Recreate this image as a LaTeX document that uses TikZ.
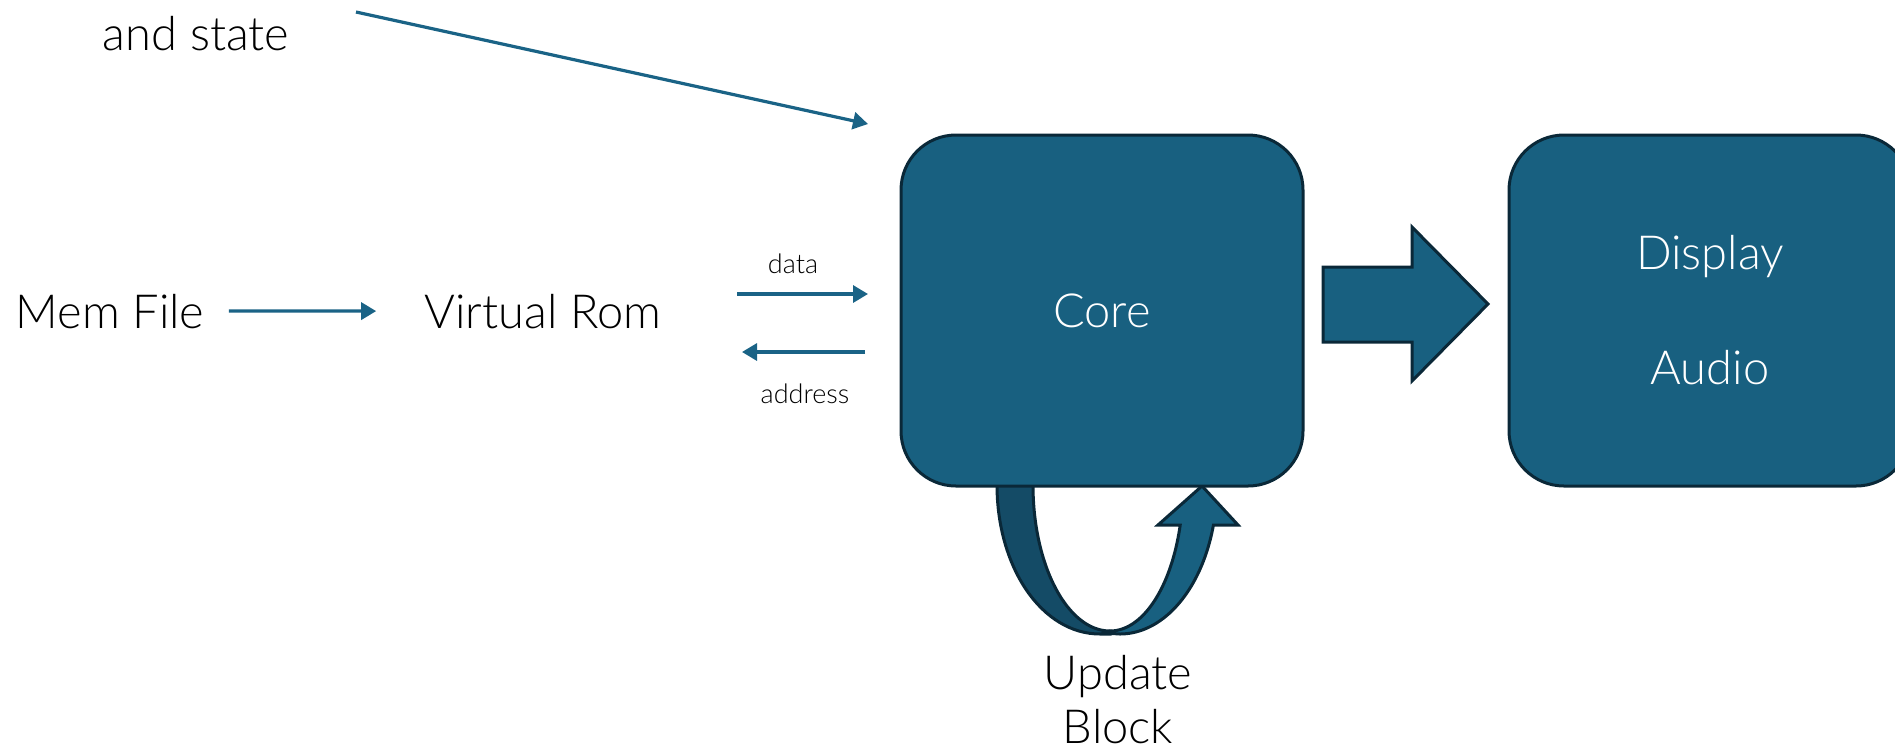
\documentclass[tikz,border=0pt]{standalone}
\usepackage{fontspec}
\setmainfont{Lato}[UprightFont={* Light}]
\usetikzlibrary{arrows.meta}
\definecolor{boxfill}{RGB}{24,96,128}
\definecolor{boxedge}{RGB}{10,40,56}
\definecolor{backband}{RGB}{20,75,102}
\definecolor{wire}{RGB}{26,99,134}
\newcommand{\diagbig}{\fontsize{23.5}{27}\selectfont}
\newcommand{\diagsmall}{\fontsize{13.5}{16}\selectfont}
\tikzset{
  block/.style={draw=boxedge, line width=1.5pt, fill=boxfill, rounded corners=27.5pt,
    minimum width=201pt, minimum height=175.5pt, text=white, font=\diagbig, inner sep=0pt},
  shape3d/.style={draw=boxedge, line width=1.5pt, line join=miter},
  txt/.style={font=\diagbig, text=black, inner sep=0pt},
  smalltxt/.style={font=\diagsmall, text=black, inner sep=0pt},
  wire/.style={draw=wire, line width=1.6pt, -{Triangle[length=7.5pt,width=8.5pt]}}
}
\begin{document}
\begin{tikzpicture}[x=0.5pt,y=-0.5pt]
\useasboundingbox (0,0) rectangle (1895,751);

% feedback loop under the core: back band, then front band with head
\path[shape3d, fill=backband] (997,470) -- (997,485)
  .. controls (997,567.3) and (1041.8,634) .. (1100,634) -- (1110,634) -- (1110,631)
  .. controls (1067.5,631) and (1033,565.6) .. (1033,485) -- (1033,470) -- cycle;
\path[shape3d, fill=boxfill] (1104,633) --
  plot[domain=90:15.57, samples=40] ({1120+97*cos(\x)},{485+149*sin(\x)})
  -- (1238,525) -- (1202,486) -- (1158,525)
  -- plot[domain=15.9:90, samples=40] ({1110+73*cos(\x)},{485+146*sin(\x)}) -- cycle;

% main blocks
\node[block] (core) at (1102,310.5) {Core};
\node[block, align=center] (out) at (1710,310.5) {Display\\[30.5pt]Audio};

% wide arrow from core to outputs
\path[shape3d, fill=boxfill] (1323,267) -- (1412,267) -- (1412,227) -- (1488,304)
  -- (1412,381) -- (1412,342) -- (1323,342) -- cycle;

% texts
\node[txt, anchor=base] (keys) at (196,50) {and state};
\node[txt, anchor=base] (mem) at (110,328) {Mem File};
\node[txt, anchor=base] (vrom) at (543,328) {Virtual Rom};
\node[smalltxt, anchor=base] (datalbl) at (793,273) {data};
\node[smalltxt, anchor=base] (addrlbl) at (805,403) {address};
\node[txt, align=center] (upd) at (1118,700) {Update\\Block};

% thin connectors
\draw[wire] ([xshift=12pt]mem.east) -- ([xshift=-24pt]vrom.west);
\coordinate (dataA) at (737,294);
\coordinate (dataB) at (868,294);
\draw[wire] (dataA) -- (dataB);
\coordinate (addrA) at (865,352);
\coordinate (addrB) at (742,352);
\draw[wire] (addrA) -- (addrB);
\coordinate (keysA) at (356,12);
\coordinate (keysB) at (868,124);
\draw[wire] (keysA) -- (keysB);
\end{tikzpicture}
\end{document}
